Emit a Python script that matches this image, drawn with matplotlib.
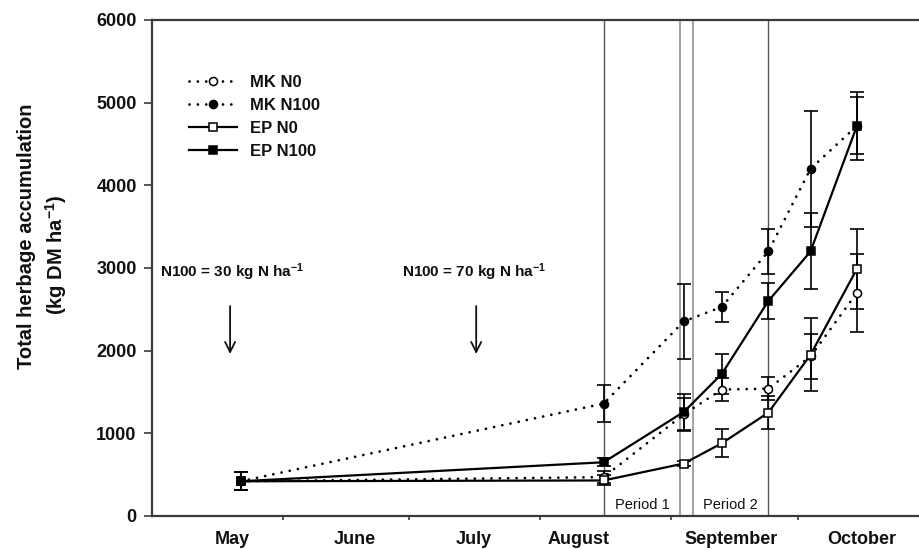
import matplotlib
matplotlib.use("Agg")
import matplotlib.pyplot as plt

plt.rcParams['font.family'] = ['Liberation Sans', 'DejaVu Sans']
plt.rcParams['mathtext.default'] = 'regular'

# Sampling dates, as days after 1 May
sample_days = [21, 107, 126, 135, 146, 156, 167]

# Total herbage accumulation (kg DM/ha) and standard errors
mk_n0 = [420, 470, 1230, 1530, 1540, 1930, 2700]
mk_n0_err = [110, 70, 200, 140, 140, 270, 470]
mk_n100 = [420, 1360, 2355, 2530, 3200, 4200, 4720]
mk_n100_err = [110, 225, 450, 185, 270, 700, 410]
ep_n0 = [420, 430, 635, 880, 1250, 1950, 2990]
ep_n0_err = [110, 60, 30, 170, 200, 440, 480]
ep_n100 = [420, 650, 1260, 1720, 2600, 3200, 4720]
ep_n100_err = [110, 50, 215, 240, 215, 460, 345]

series_labels = ['MK N0', 'MK N100', 'EP N0', 'EP N100']

# Month boundaries and month names (days after 1 May)
month_starts = [31, 61, 92, 123, 153]
month_label_pos = [19, 48, 76.3, 101, 137.2, 168.2]
month_names = ['May', 'June', 'July', 'August', 'September', 'October']

# Fertiliser applications
n_days = [18.5, 76.8]
n_texts = ['N100 = 30 kg N ha$^{-1}$', 'N100 = 70 kg N ha$^{-1}$']
n_text_x = [1.9, 59.3]

# Measurement period boundaries
period_lines_dark = [107.1, 145.9]
period_lines_light = [125.1, 128.2]
period_names = ['Period 1', 'Period 2']
period_label_x = [116.1, 136.9]

fig = plt.figure(figsize=(9.19, 5.49), dpi=100)
ax = fig.add_axes([152 / 919, 33 / 549, 1 - 152 / 919, 496 / 549])

spine_col = '#3a3a3a'
ink = '#111111'
for x in period_lines_dark:
    ax.axvline(x, color='#555555', lw=1.0, zorder=1)
for x in period_lines_light:
    ax.axvline(x, color='#9a9a9a', lw=1.3, zorder=1)

dotted = (0, (0.01, 3.0))
styles = [
    (mk_n0, mk_n0_err, dict(ls=dotted, marker='o', mfc='white')),
    (mk_n100, mk_n100_err, dict(ls=dotted, marker='o', mfc='black')),
    (ep_n0, ep_n0_err, dict(ls='-', marker='s', mfc='white')),
    (ep_n100, ep_n100_err, dict(ls='-', marker='s', mfc='black')),
]

handles = []
for (vals, errs, st), lab in zip(styles, series_labels):
    ax.errorbar(sample_days, vals, yerr=errs, fmt='none', ecolor='black',
                elinewidth=1.2, capsize=5, capthick=1.2, zorder=3)
    lw = 1.6 if st['ls'] == '-' else 2.0
    ln, = ax.plot(sample_days, vals, color='black', lw=lw, ls=st['ls'],
                  marker=st['marker'], ms=5.8, mfc=st['mfc'], mec='black',
                  mew=1.1, dash_capstyle='round', zorder=4, label=lab)
    handles.append(ln)

leg = ax.legend(handles=handles, loc='upper left', frameon=False,
                bbox_to_anchor=(189 / 919, 1 - 75 / 549),
                bbox_transform=fig.transFigure, borderaxespad=0, borderpad=0,
                prop=dict(size=12, weight='bold'), handlelength=2.9,
                handletextpad=0.75, labelspacing=0.48, numpoints=1)
for t in leg.get_texts():
    t.set_color(ink)

for d, txt, tx in zip(n_days, n_texts, n_text_x):
    ax.text(tx, 2950, txt, fontsize=11, fontweight='bold', ha='left',
            va='center', color=ink)
    ax.annotate('', xy=(d, 1960), xytext=(d, 2540),
                arrowprops=dict(arrowstyle='->', lw=1.3, color=ink,
                                mutation_scale=18, shrinkA=0, shrinkB=0))

for x, name in zip(period_label_x, period_names):
    ax.text(x, 135, name, fontsize=10.5, ha='center', va='center',
            color=ink)

ax.set_xlim(0, 181.7)
ax.set_ylim(0, 6000)
ax.set_yticks(range(0, 6001, 1000))
ax.set_xticks(month_starts)
ax.set_xticklabels([])
ax.set_xticks(month_label_pos, minor=True)
ax.set_xticklabels(month_names, minor=True)
ax.tick_params(axis='x', which='major', direction='out', length=3,
               width=1.2, color=spine_col)
ax.tick_params(axis='x', which='minor', length=0, pad=11, labelsize=13)
ax.tick_params(axis='y', direction='out', length=6, width=1.2,
               color=spine_col, labelsize=13, pad=5)
for lab in ax.get_xticklabels(minor=True) + ax.get_yticklabels():
    lab.set_fontweight('bold')
    lab.set_color(ink)

ax.spines['right'].set_visible(False)
for s in ['left', 'top', 'bottom']:
    ax.spines[s].set_color(spine_col)
    ax.spines[s].set_linewidth(1.6)

fig.text(27 / 919, 1 - 236 / 549, 'Total herbage accumulation',
         rotation=90, ha='center', va='center', fontsize=14.5,
         fontweight='bold', color=ink)
fig.text(56 / 919, 1 - 255 / 549, '(kg DM ha$^{-1}$)',
         rotation=90, ha='center', va='center', fontsize=14.5,
         fontweight='bold', color=ink)

fig.savefig('out.png', dpi=100)
